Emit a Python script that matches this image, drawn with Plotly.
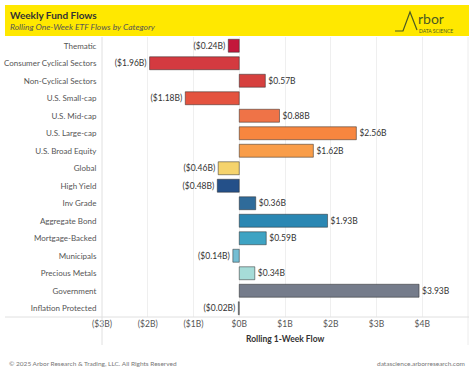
import plotly.graph_objects as go

categories = ["Thematic", "Consumer Cyclical Sectors", "Non-Cyclical Sectors", "U.S. Small-cap",
              "U.S. Mid-cap", "U.S. Large-cap", "U.S. Broad Equity", "Global", "High Yield",
              "Inv Grade", "Aggregate Bond", "Mortgage-Backed", "Municipals", "Precious Metals",
              "Government", "Inflation Protected"]
values = [-0.24, -1.96, 0.57, -1.18, 0.88, 2.56, 1.62, -0.46, -0.48, 0.36, 1.93, 0.59,
          -0.14, 0.34, 3.93, -0.02]
colors = ["#c3173b", "#d43a40", "#d6403e", "#e4533f", "#ef7347", "#f7863f", "#f99d49",
          "#f5d36c", "#245089", "#2f6b9a", "#2a87b3", "#3ea3c3", "#74bdd3", "#a6dcd8",
          "#757c8b", "#8a9099"]
tick_vals = [-3, -2, -1, 0, 1, 2, 3, 4]
tick_text = ["($3B)", "($2B)", "($1B)", "$0B", "$1B", "$2B", "$3B", "$4B"]

labels = [f"(${abs(v):.2f}B)" if v < 0 else f"${v:.2f}B" for v in values]

W, H = 474, 379
L, R, T, B = 102, 468, 37, 317
FONT = "Lato"


def px(x):
    return (x - L) / (R - L)


def py(y):
    return (B - y) / (B - T)


fig = go.Figure()
fig.add_trace(go.Bar(
    x=values, y=categories, orientation="h",
    marker=dict(color=colors, line=dict(color="rgba(40,40,40,0.5)", width=1)),
    width=0.74,
    text=labels, textposition="outside", cliponaxis=False,
    textfont=dict(family=FONT, size=8.5, color="#333333"),
    hoverinfo="skip",
))

shapes = [
    # banner
    dict(type="rect", xref="paper", yref="paper", x0=px(5), x1=px(469), y0=py(36), y1=py(5),
         fillcolor="#ffe800", line=dict(width=0), layer="below"),
    # left axis line
    dict(type="line", xref="paper", yref="paper", x0=px(102), x1=px(102), y0=py(345), y1=py(37),
         line=dict(color="#e0e0e0", width=1)),
    # right border
    dict(type="line", xref="paper", yref="paper", x0=px(468), x1=px(468), y0=py(345), y1=py(37),
         line=dict(color="#ececec", width=1)),
    # bottom axis line
    dict(type="line", xref="paper", yref="paper", x0=px(5), x1=px(469), y0=py(317), y1=py(317),
         line=dict(color="#e0e0e0", width=1)),
    # logo line
    dict(type="path", xref="paper", yref="paper",
         path=f"M {px(395)} {py(31)} L {px(403)} {py(31)} L {px(410)} {py(12)} L {px(417)} {py(30)}",
         line=dict(color="#4b5a22", width=1.2)),
]

annotations = [
    dict(text="<b>Weekly Fund Flows</b>", xref="paper", yref="paper", x=px(8), y=py(15),
         xanchor="left", yanchor="middle", showarrow=False,
         font=dict(family=FONT, size=10, color="#333333")),
    dict(text="<i>Rolling One-Week ETF Flows by Category</i>", xref="paper", yref="paper",
         x=px(8), y=py(27), xanchor="left", yanchor="middle", showarrow=False,
         font=dict(family=FONT, size=8.5, color="#555555")),
    dict(text="rbor", xref="paper", yref="paper", x=px(416), y=py(18.5), xanchor="left",
         yanchor="middle", showarrow=False,
         font=dict(family=FONT, size=14, color="#4b5a22")),
    dict(text="DATA SCIENCE", xref="paper", yref="paper", x=px(417), y=py(31), xanchor="left",
         yanchor="middle", showarrow=False,
         font=dict(family=FONT, size=5, color="#4b5a22")),
    dict(text="<b>Rolling 1-Week Flow</b>", xref="paper", yref="paper", x=0.5, y=py(339),
         xanchor="center", yanchor="middle", showarrow=False,
         font=dict(family=FONT, size=8.5, color="#333333")),
    dict(text="© 2025 Arbor Research & Trading, LLC. All Rights Reserved", xref="paper",
         yref="paper", x=px(7), y=py(363), xanchor="left", yanchor="middle", showarrow=False,
         font=dict(family=FONT, size=6.5, color="#777777")),
    dict(text="datascience.arborresearch.com", xref="paper", yref="paper", x=px(467),
         y=py(363), xanchor="right", yanchor="middle", showarrow=False,
         font=dict(family=FONT, size=6.5, color="#777777")),
]

fig.update_layout(
    width=W, height=H,
    margin=dict(l=L, r=W - R, t=T, b=H - B, pad=0, autoexpand=False),
    paper_bgcolor="white", plot_bgcolor="white",
    showlegend=False,
    bargap=0.26,
    shapes=shapes, annotations=annotations,
    xaxis=dict(range=[-3, 5], tickvals=tick_vals, ticktext=tick_text,
               showgrid=True, gridcolor="#efefef", gridwidth=1,
               zeroline=False, showline=False, ticks="", automargin=False,
               tickfont=dict(family=FONT, size=8.5, color="#555555"),
               fixedrange=True),
    yaxis=dict(categoryorder="array", categoryarray=categories, autorange="reversed",
               showgrid=False, zeroline=False, showline=False, ticks="outside",
               ticklen=3, tickcolor="rgba(0,0,0,0)", automargin=False,
               tickfont=dict(family=FONT, size=8, color="#555555"),
               fixedrange=True),
    font=dict(family=FONT),
)

fig.write_html("out.html", config={"displayModeBar": False},
               post_script="document.body.style.margin='0';document.body.style.overflow='hidden';")
